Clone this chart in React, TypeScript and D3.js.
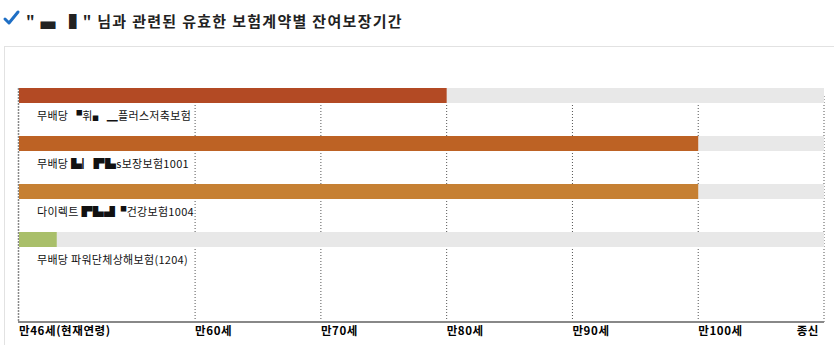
import React from "react";
import * as d3 from "d3";

const title = "\u0022  \u2584 \u2590 \u0022 님과 관련된 유효한 보험계약별 잔여보장기간";
const products = [
  "무배당 \u259D휘\u2596 \u2581플러스저축보험",
  "무배당 \u2599\u258F\u259B\u2599s보장보험1001",
  "다이렉트 \u259B\u2599\u259F\u259D건강보험1004",
  "무배당 파워단체상해보험(1204)",
];
const endAges = [80, 100, 100, 49];
const barColors = ["#b34a24", "#bd6224", "#c68033", "#a9bf6a"];
const tickAges = [46, 60, 70, 80, 90, 100, 110];
const tickLabels = ["만46세(현재연령)", "만60세", "만70세", "만80세", "만90세", "만100세", "종신"];

export default function App() {
  const W = 834, H = 345;
  const x = d3.scaleLinear().domain([46, 110]).range([19, 824]);
  const y = d3.scaleBand<number>().domain(d3.range(products.length)).range([88, 280]).paddingInner(0).paddingOuter(0);
  const barH = 15;
  const axisY = 322;
  const font = "'Noto Sans CJK KR', 'Noto Sans', sans-serif";
  return (
    <svg width={W} height={H} style={{ position: "absolute", left: 0, top: 0, background: "#fff" }}>
      {/* check icon */}
      <path d="M5,19 L9,23 L18,12" fill="none" stroke="#1f6fc5" strokeWidth={3} strokeLinecap="round" strokeLinejoin="round" />
      <text x={26} y={27} fontFamily={font} fontWeight="bold" fontSize={15} letterSpacing={1.3} fill="#222">{title}</text>
      {/* panel */}
      <rect x={4.5} y={46.5} width={840} height={320} fill="none" stroke="#e2e2e2" strokeWidth={1} />
      {/* gridlines */}
      {tickAges.slice(1).map((a, i) => (
        <line key={i} x1={x(a)} x2={x(a)} y1={96} y2={axisY} stroke="#555" strokeWidth={1} strokeDasharray="1,2" />
      ))}
      {/* left axis */}
      <line x1={18.5} x2={18.5} y1={88} y2={axisY} stroke="#888" strokeWidth={1.5} strokeDasharray="2,1" />
      {/* bars */}
      {products.map((p, i) => {
        const y0 = y(i)!;
        return (
          <g key={i}>
            <rect x={x(46)} y={y0} width={x(110) - x(46)} height={barH} fill="#e8e8e8" />
            <rect x={x(46)} y={y0} width={x(endAges[i]) - x(46)} height={barH} fill={barColors[i]} />
            <text x={37} y={y0 + 32} fontFamily={font} fontSize={11} letterSpacing={0.3} fill="#111">{p}</text>
          </g>
        );
      })}
      {/* bottom axis */}
      <line x1={18} x2={824} y1={axisY} y2={axisY} stroke="#888" strokeWidth={2} />
      {tickAges.map((a, i) => (
        <text key={i} x={i === tickAges.length - 1 ? x(a) - 5 : x(a)} y={335}
          textAnchor={i === tickAges.length - 1 ? "end" : "start"}
          fontFamily={font} fontWeight="bold" fontSize={11.5} letterSpacing={0.6} fill="#000">{tickLabels[i]}</text>
      ))}
    </svg>
  );
}
